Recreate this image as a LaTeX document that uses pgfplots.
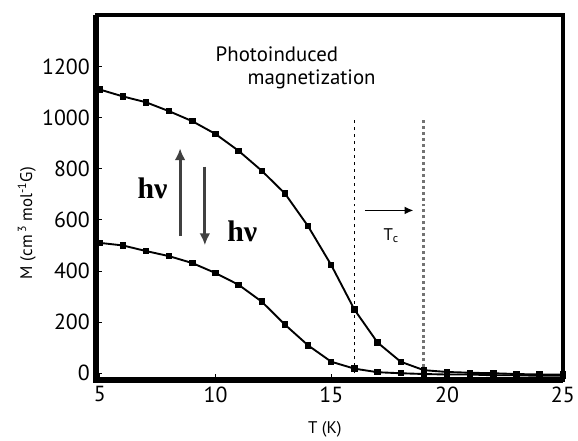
\documentclass[border=0pt]{standalone}
\usepackage{fontspec}
\usepackage{pgfplots}
\pgfplotsset{compat=1.18}
\usetikzlibrary{arrows.meta}
\setmainfont{PT Sans}
\newfontfamily\serifb{Liberation Serif}
\begin{document}
\begin{tikzpicture}
\begin{axis}[
  scale only axis, width=470pt, height=368pt,
  xmin=4.85, xmax=25, ymin=-27, ymax=1402,
  axis line style={draw=none},
  xtick={5,10,15,20,25}, ytick={0,200,...,1200},
  tick align=inside, tick pos=left,
  major tick length=6pt, tick style={black, line width=1pt},
  ticklabel style={font=\fontsize{22}{24}\selectfont},
  xticklabel style={yshift=-3pt},
  yticklabel style={xshift=-3pt},
  /pgf/number format/assume math mode=true,
  /pgf/number format/1000 sep={},
  xlabel={T (K)}, ylabel={M (cm\,\textsuperscript{3} mol\textsuperscript{-1}G)},
  xlabel style={font=\fontsize{17}{19}\selectfont, at={(axis description cs:0.49,-0.136)}, anchor=center},
  ylabel style={font=\fontsize{17}{19}\selectfont, at={(axis description cs:-0.149,0.43)}, anchor=center},
  clip=false,
]
\draw[line width=3.5pt] (rel axis cs:0,0) rectangle (rel axis cs:1,1);
\draw[line width=6pt] (rel axis cs:0,1) -- (rel axis cs:0,0) -- (rel axis cs:1,0);
\addplot[black, line width=1.9pt, mark=square*, mark size=2.3pt] coordinates {
(5,1110)(6,1083)(7,1060)(8,1025)(9,986)(10,936)(11,870)(12,792)(13,703)(14,575)(15,423)(16,249)(17,120)(18,45)(19,12)(20,5)(21,2)(22,0)(23,-3)(24,-5)(25,-5)};
\addplot[black, line width=1.9pt, mark=square*, mark size=2.3pt] coordinates {
(5,510)(6,500)(7,478)(8,458)(9,431)(10,392)(11,346)(12,280)(13,190)(14,109)(15,45)(16,18)(17,4)(18,0)(19,-3)(20,-5)(21,-5)(22,-8)(23,-8)(24,-10)(25,-10)};
\addplot[black, line width=1.4pt, dash pattern=on 3pt off 4pt] coordinates {(16,0)(16,990)};
\addplot[black!55, line width=2.8pt, dash pattern=on 3pt off 3pt] coordinates {(19,0)(19,1000)};
\addplot[black, line width=1.5pt, -{Latex[length=9pt,width=8pt]}] coordinates {(16.45,637)(18.55,637)};
\addplot[black!75, line width=3pt, -{Latex[length=12pt,width=11pt]}] coordinates {(8.47,536)(8.47,880)};
\addplot[black!75, line width=3pt, -{Latex[length=12pt,width=11pt]}] coordinates {(9.54,808)(9.54,501)};
\node[font=\serifb\bfseries\fontsize{30}{32}\selectfont] at (axis cs:7.28,722) {hν};
\node[font=\serifb\bfseries\fontsize{30}{32}\selectfont] at (axis cs:11.16,555) {hν};
\node[font=\fontsize{17}{19}\selectfont, anchor=base west, inner sep=0pt] at (axis cs:17.25,520) {T\textsubscript{c}};
\node[font=\fontsize{21}{23}\selectfont, anchor=base west, inner sep=0pt] at (axis cs:10.0,1219) {Photoinduced};
\node[font=\fontsize{21}{23}\selectfont, anchor=base west, inner sep=0pt] at (axis cs:11.38,1130) {magnetization};
\end{axis}
\path ([xshift=-97pt,yshift=-58pt]current axis.south west) rectangle ([xshift=11pt,yshift=15pt]current axis.north east);
\end{tikzpicture}
\end{document}
